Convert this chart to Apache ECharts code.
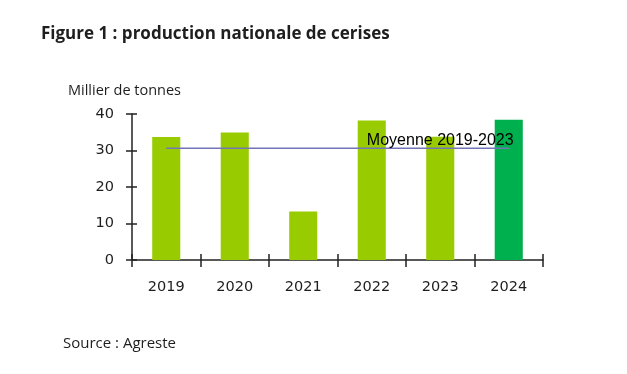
<!DOCTYPE html>
<html><head><meta charset="utf-8">
<script src="https://cdn.jsdelivr.net/npm/echarts@6/dist/echarts.min.js"></script>
<style>html,body{margin:0;padding:0;background:#fff}#c{width:627px;height:374px}</style>
</head><body><div id="c"></div>
<script>
const categories = ['2019','2020','2021','2022','2023','2024'];
const production = [33.7, 34.9, 13.3, 38.2, 33.8, 38.4];
const moyenne = [30.6, 30.6, 30.6, 30.6, 30.6, 30.6];
const yTicks = [0, 10, 20, 30, 40];

const chart = echarts.init(document.getElementById('c'));
const txt = '#1e1e1e';
chart.setOption({
  animation: false,
  backgroundColor: '#fff',
  title: [
    {text: 'Figure 1 : production nationale de cerises', left: 36, top: 21,
     textStyle: {fontFamily: 'Open Sans', fontWeight: 'bold', fontSize: 17, color: '#1e1e1e'}},
    {text: 'Millier de tonnes', left: 63, top: 78,
     textStyle: {fontFamily: 'Open Sans', fontWeight: 'normal', fontSize: 14.5, color: txt}},
    {text: 'Source : Agreste', left: 58, top: 331,
     textStyle: {fontFamily: 'Open Sans', fontWeight: 'normal', fontSize: 15, color: txt}}
  ],
  grid: {left: 132, right: 84, top: 114, bottom: 114},
  xAxis: [{
    type: 'category', data: categories,
    axisLine: {lineStyle: {color: '#222', width: 1.5}},
    axisTick: {show: true, length: 7, lineStyle: {color: '#222', width: 1.5}},
    axisLabel: {fontFamily: 'DejaVu Sans', fontSize: 14.5, color: txt, margin: 20}
  }, {
    type: 'category', data: categories, position: 'bottom',
    axisLine: {show: true, lineStyle: {opacity: 0}},
    axisTick: {show: true, inside: true, length: 6, lineStyle: {color: '#222', width: 1.5}},
    axisLabel: {show: false}
  }],
  yAxis: [{
    type: 'value', min: 0, max: 40, interval: 10,
    axisLine: {show: true, lineStyle: {color: '#222', width: 1.5}},
    axisTick: {show: true, length: 6, lineStyle: {color: '#222', width: 1.5}},
    splitLine: {show: false},
    axisLabel: {fontFamily: 'DejaVu Sans', fontSize: 14.5, color: txt, margin: 18,
      formatter: v => yTicks.includes(v) ? String(v) : ''}
  }, {
    type: 'value', min: 0, max: 40, interval: 10, position: 'left',
    axisLine: {show: true, lineStyle: {opacity: 0}},
    axisTick: {show: true, inside: true, length: 5, lineStyle: {color: '#222', width: 1.5}},
    splitLine: {show: false},
    axisLabel: {show: false}
  }],
  series: [{
    type: 'bar', data: production.map((v, i) => ({
      value: v, itemStyle: {color: i === 5 ? '#00b04f' : '#99cc00'}
    })),
    barWidth: '41%', z: 2
  }, {
    type: 'line', data: moyenne.map((v, i) => i === 4 ? {value: v, label: {
      show: true, position: 'top', distance: 0, formatter: 'Moyenne 2019-2023',
      fontFamily: 'Liberation Sans', fontSize: 16, color: '#000'}} : v),
    symbol: 'circle', symbolSize: 0, showSymbol: true, z: 3,
    lineStyle: {color: '#7474b8', width: 1.5}
  }]
});
</script></body></html>
